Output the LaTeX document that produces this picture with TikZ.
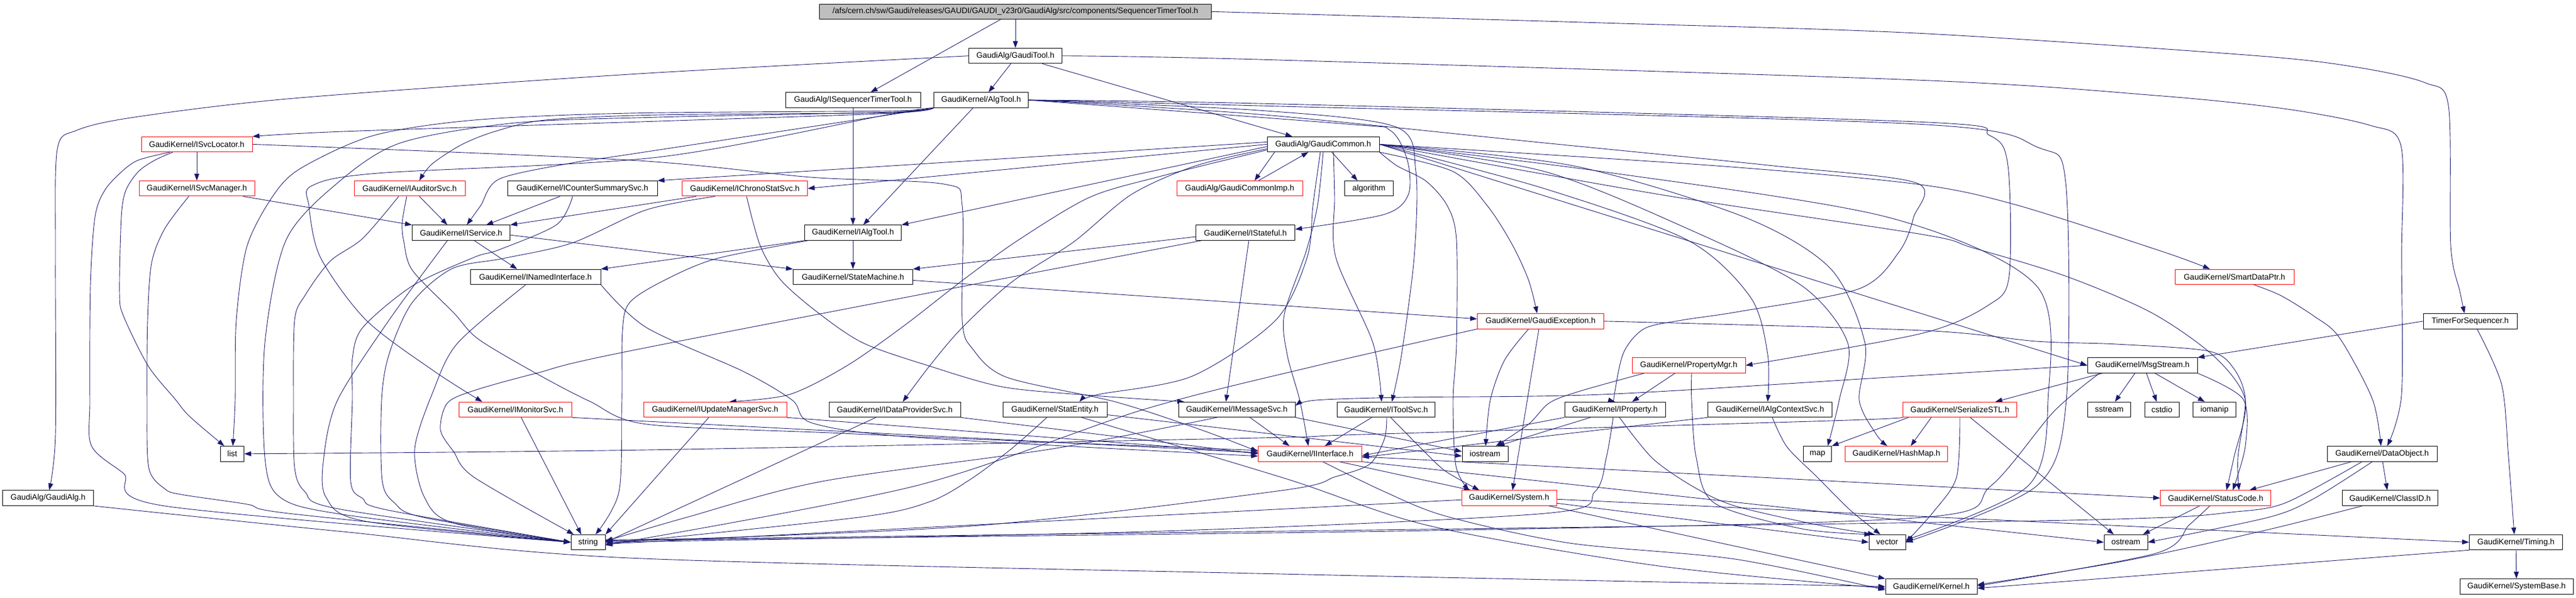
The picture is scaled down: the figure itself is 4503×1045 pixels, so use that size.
\documentclass[tikz,border=0pt]{standalone}
\usepackage{fontspec}
\setmainfont{Liberation Sans}
\usetikzlibrary{arrows.meta}
\pgfdeclarelayer{bg}
\pgfsetlayers{bg,main}
\definecolor{edgeblue}{HTML}{191970}
\definecolor{rootgray}{HTML}{BFBFBF}
\newcommand\conn[1]{\draw[e] plot[smooth,tension=0.5] coordinates {#1};}
\begin{document}
\begin{tikzpicture}[x=1pt,y=-1pt,
  box/.style={draw=black, fill=white, line width=1pt, inner sep=0pt, minimum height=26.5pt, font=\fontsize{14}{16}\selectfont},
  rbox/.style={box, draw=red},
  gbox/.style={box, fill=rootgray},
  w/.style={minimum width=#1pt},
  e/.style={draw=edgeblue, line width=0.9pt, -{Triangle[length=12pt,width=8.5pt]}},
]
\path[use as bounding box] (0,0) rectangle (4503,1045);
% row 0
\node[gbox,w=685] (root) at (1775,20.3) {/afs/cern.ch/sw/Gaudi/releases/GAUDI/GAUDI\_v23r0/GaudiAlg/src/components/SequencerTimerTool.h};
% row 1
\node[box,w=163] (gtool) at (1775,97.7) {GaudiAlg/GaudiTool.h};
% row 2
\node[box,w=236] (iseq) at (1491,175.0) {GaudiAlg/ISequencerTimerTool.h};
\node[box,w=165] (algtool) at (1715,175.0) {GaudiKernel/AlgTool.h};
% row 3
\node[rbox,w=194] (isvcloc) at (344,252.4) {GaudiKernel/ISvcLocator.h};
\node[box,w=196] (gcommon) at (2313,252.4) {GaudiAlg/GaudiCommon.h};
% row 4
\node[rbox,w=202] (isvcmgr) at (344,329.7) {GaudiKernel/ISvcManager.h};
\node[rbox,w=194] (iaud) at (716,329.7) {GaudiKernel/IAuditorSvc.h};
\node[box,w=262] (icounter) at (1018,329.7) {GaudiKernel/ICounterSummarySvc.h};
\node[rbox,w=219] (ichrono) at (1302,329.7) {GaudiKernel/IChronoStatSvc.h};
\node[rbox,w=220] (gcimp) at (2167,329.7) {GaudiAlg/GaudiCommonImp.h};
\node[box,w=85] (algo) at (2393,329.7) {algorithm};
% row 5
\node[box,w=171] (iservice) at (806,407.1) {GaudiKernel/IService.h};
\node[box,w=169] (ialgtool) at (1491,407.1) {GaudiKernel/IAlgTool.h};
\node[box,w=173] (istateful) at (2177,407.1) {GaudiKernel/IStateful.h};
% row 6
\node[box,w=228] (inamed) at (936,484.4) {GaudiKernel/INamedInterface.h};
\node[box,w=209] (statem) at (1491,484.4) {GaudiKernel/StateMachine.h};
\node[rbox,w=208] (sdp) at (3906,484.4) {GaudiKernel/SmartDataPtr.h};
% row 7
\node[rbox,w=221] (gexc) at (2693,561.8) {GaudiKernel/GaudiException.h};
\node[box,w=164] (tfs) at (4318,561.8) {TimerForSequencer.h};
% row 8
\node[rbox,w=198] (propmgr) at (2952,639.1) {GaudiKernel/PropertyMgr.h};
\node[box,w=192] (msgs) at (3745,639.1) {GaudiKernel/MsgStream.h};
% row 9
\node[rbox,w=197] (imon) at (901,716.5) {GaudiKernel/IMonitorSvc.h};
\node[rbox,w=250] (iupd) at (1250,716.5) {GaudiKernel/IUpdateManagerSvc.h};
\node[box,w=230] (idata) at (1564,716.5) {GaudiKernel/IDataProviderSvc.h};
\node[box,w=182] (statent) at (1844,716.5) {GaudiKernel/StatEntity.h};
\node[box,w=204] (imsg) at (2162,716.5) {GaudiKernel/IMessageSvc.h};
\node[box,w=171] (itool) at (2423,716.5) {GaudiKernel/IToolSvc.h};
\node[box,w=176] (iprop) at (2823,716.5) {GaudiKernel/IProperty.h};
\node[box,w=217] (ialgctx) at (3094,716.5) {GaudiKernel/IAlgContextSvc.h};
\node[rbox,w=199] (serstl) at (3426,716.5) {GaudiKernel/SerializeSTL.h};
\node[box,w=75] (sstr) at (3687,716.5) {sstream};
\node[box,w=60] (cstd) at (3779,716.5) {cstdio};
\node[box,w=75] (ioman) at (3871,716.5) {iomanip};
% row 10
\node[box,w=41] (list) at (406,793.8) {list};
\node[rbox,w=181] (iintf) at (2290,793.8) {GaudiKernel/IInterface.h};
\node[box,w=80] (iostr) at (2596,793.8) {iostream};
\node[box,w=49] (map) at (3177,793.8) {map};
\node[rbox,w=179] (hashmap) at (3315,793.8) {GaudiKernel/HashMap.h};
\node[box,w=192] (dobj) at (4164,793.8) {GaudiKernel/DataObject.h};
% row 11
\node[box,w=159] (galg) at (84,871.2) {GaudiAlg/GaudiAlg.h};
\node[rbox,w=166] (system) at (2638,871.2) {GaudiKernel/System.h};
\node[rbox,w=193] (stcode) at (3873,871.2) {GaudiKernel/StatusCode.h};
\node[box,w=167] (classid) at (4178,871.2) {GaudiKernel/ClassID.h};
% row 12
\node[box,w=60] (string) at (1028,948.5) {string};
\node[box,w=64] (vector) at (3299,948.5) {vector};
\node[box,w=76] (ostr) at (3716,948.5) {ostream};
\node[box,w=163] (timing) at (4398,948.5) {GaudiKernel/Timing.h};
% row 13
\node[box,w=160] (kernel) at (3376,1025.9) {GaudiKernel/Kernel.h};
\node[box,w=198] (sysbase) at (4399,1025.9) {GaudiKernel/SystemBase.h};

\begin{pgfonlayer}{bg}
% ---- root
\draw[e] (root) -- (gtool);
\draw[e] ([xshift=-26pt]root.south) -- ([xshift=31pt]iseq.north);
\conn{(root.east) (2800,40) (3350,58) (3938,97) (4122,118) (4240,145) (4280,185) (4284,430) (4300,510) ([xshift=-10pt]tfs.north)}
% ---- GaudiTool
\conn{(gtool.west) (1100,130) (513,172) (235,205) (134,228) (100,262) (97,450) (97,760) ([xshift=2pt]galg.north)}
\draw[e] ([xshift=-8pt]gtool.south) -- ([xshift=13pt]algtool.north);
\draw[e] ([xshift=47pt]gtool.south) -- ([xshift=-54pt]gcommon.north);
\conn{(gtool.east) (2200,104) (3350,140) (3768,167) (3992,190) (4142,219) (4197,255) (4198,450) (4198,690) ([xshift=9pt]dobj.north)}
% ---- ISequencerTimerTool
\draw[e] (iseq) -- (ialgtool);
% ---- AlgTool
\draw[e] ([xshift=-14pt]algtool.south) -- ([xshift=18pt]ialgtool.north);
\conn{(algtool.south west) (1560,200) (1100,270) (1000,285) (873,313) (840,360) ([xshift=10pt]iservice.north)}
\conn{(algtool.south west) (1560,198) (1150,212) (600,230) (isvcloc.north east)}
\conn{(algtool.south west) (1560,197) (1150,201) (953,210) (865,230) (807,253) (755,287) ([xshift=17pt]iaud.north)}
\conn{(algtool.south west) (1560,199) (1150,275) (660,303) (545,325) (540,360) (560,450) (640,560) (760,650) ([xshift=-58pt]imon.north)}
\conn{(algtool.south west) (1560,196) (1150,205) (900,215) (700,250) (590,320) (500,420) (463,600) (463,800) (490,870) (600,900) (string.west)}
\conn{(algtool.south west) (1560,194) (1100,198) (829,210) (653,237) (528,293) (479,340) (432,430) (413,560) (411,700) ([xshift=1pt]list.north)}
\conn{(algtool.east) (2200,200) (2700,250) (3100,290) (3350,320) (3345,380) (3320,440) (3250,505) (3040,545) (2940,560) (2874,575) (2838,617) (2822,690) (iprop.north)}
\conn{(algtool.east) (2200,181) (3350,213) (3478,237) (3510,290) (3512,483) (3477,533) (3360,583) (propmgr.east)}
\conn{(algtool.east) (2200,185) (3350,217) (3563,258) (3611,320) (3612,700) (3560,850) (vector.east)}
\conn{(algtool.east) (2354,217) (2430,228) (2460,280) (2462,340) (2420,375) ([yshift=6pt]istateful.east)}
\conn{(algtool.east) (2200,193) (2440,222) (2475,300) (2472,450) (2450,620) ([xshift=10pt]itool.north)}
% ---- IAlgTool
\draw[e] (ialgtool.south west) -- (inamed.north east);
\draw[e] (ialgtool) -- (statem);
\conn{([xshift=6pt]ialgtool.south west) (1250,453) (1156,493) (1100,530) (1088,580) (1087,700) (1082,860) ([xshift=13pt]string.north)}
% ---- IService
\draw[e] ([xshift=23pt]iservice.south) -- ([xshift=-32pt]inamed.north);
\draw[e] ([yshift=-4pt]iservice.east) -- (statem.north west);
\conn{([xshift=-24pt]iservice.south) (680,560) (590,700) (566,800) (570,870) (640,912) (string.west)}
% ---- INamedInterface
\conn{(inamed.south east) (1130,573) (1300,650) (1385,700) (1420,740) (1600,765) ([yshift=-4pt]iintf.west)}
\conn{([xshift=-17pt]inamed.south) (800,600) (757,685) (725,785) (742,870) (793,915) (string.west)}
% ---- StateMachine
\draw[e] ([yshift=-6pt]statem.east) -- ([yshift=4pt]gexc.west);
% ---- IStateful
\draw[e] ([yshift=-7pt]istateful.west) -- (statem.north east);
\conn{([xshift=10pt]istateful.south west) (1120,610) (937,653) (829,683) (782,705) (770,752) (793,790) (829,835) ([xshift=-25pt]string.north)}
\draw[e] ([xshift=6pt]istateful.south) -- ([xshift=-19pt]imsg.north);
% ---- ISvcLocator
\draw[e] (isvcloc) -- (isvcmgr);
\conn{(isvcloc.east) (1100,280) (1417,310) (1650,322) (1682,360) (1682,560) (1700,610) (1760,660) (1950,703) (2100,752) ([yshift=4pt]iintf.west)}
\conn{([xshift=-42pt]isvcloc.south) (271,280) (242,300) (220,333) (212,380) (209,513) (216,553) (259,640) (306,698) (331,728) ([xshift=-14pt]list.north)}
\conn{([xshift=-47pt]isvcloc.south) (242,280) (213,300) (183,333) (166,380) (158,500) (157,700) (160,780) (216,828) (288,885) (string.west)}
% ---- ISvcManager
\draw[e] ([xshift=81pt]isvcmgr.south) -- (iservice.north west);
\conn{([xshift=-14pt]isvcmgr.south) (288,400) (265,460) (258,560) (257,700) (260,818) (288,855) (317,865) (432,882) (504,898) (string.west)}
% ---- IAuditorSvc
\draw[e] ([xshift=17pt]iaud.south) -- ([xshift=-24pt]iservice.north);
\conn{([xshift=-19pt]iaud.south) (634,417) (577,457) (533,517) (515,560) (513,700) (515,818) (533,860) (591,890) (string.west)}
\conn{([xshift=-5pt]iaud.south) (703,390) (706,423) (721,473) (793,547) (836,593) (937,653) (1031,702) (1130,742) (1450,757) (1700,768) ([yshift=6pt]iintf.west)}
% ---- ICounterSummarySvc
\draw[e] ([xshift=-39pt]icounter.south) -- ([xshift=44pt]iservice.north);
\conn{([xshift=-17pt]icounter.south) (973,393) (872,437) (829,450) (721,500) (634,573) (616,627) (616,698) (613,842) (634,872) (677,892) (string.west)}
% ---- IChronoStatSvc
\draw[e] ([xshift=-85pt]ichrono.south) -- (iservice.north east);
\conn{([xshift=-52pt]ichrono.south) (1130,367) (1000,425) (880,452) (790,470) (720,530) (680,620) (667,700) (668,840) (690,880) (740,905) (string.west)}
\conn{([xshift=3pt]ichrono.south) (1329,430) (1365,490) (1430,547) (1509,600) (1624,640) (1754,677) (1913,692) ([xshift=-92pt]imsg.north)}
% ---- GaudiCommon
\draw[e] ([yshift=-4pt]gcommon.west) -- (ialgtool.north east);
\draw[e] ([yshift=4pt]gcommon.west) -- (icounter.north east);
\draw[e] (gcommon.west) -- (ichrono.east);
\draw[e] ([xshift=-85pt]gcommon.south) -- ([xshift=26pt]gcimp.north);
\draw[e] ([xshift=33pt]gcimp.north) -- ([xshift=-26pt]gcommon.south);
\draw[e] ([xshift=15pt]gcommon.south) -- ([xshift=-20pt]algo.north);
\conn{(gcommon.south east) (2540,300) (2600,360) (2643,427) (2672,490) ([xshift=-6pt]gexc.north)}
\conn{(gcommon.south) (2303,360) (2283,440) (2245,550) (2250,620) (2272,700) ([xshift=-3pt]iintf.north)}
\conn{([xshift=-5pt]gcommon.south) (2295,360) (2285,450) (2230,560) (2084,658) (1920,690) ([xshift=43pt]statent.north)}
\conn{([xshift=18pt]gcommon.south) (2333,345) (2335,450) (2400,600) ([xshift=-8pt]itool.north)}
\conn{(gcommon.south east) (2442,290) (2493,317) (2530,360) (2546,420) (2546,600) (2540,700) (2545,815) ([xshift=-70pt]system.north)}
\conn{(gcommon.east) (2700,330) (2950,420) (3060,520) (3090,620) ([xshift=-4pt]ialgctx.north)}
\conn{([yshift=-8pt]gcommon.west) (2090,290) (1978,340) (1877,423) (1769,493) (1682,573) (1625,640) ([xshift=14pt]idata.north)}
\conn{([yshift=-10pt]gcommon.west) (2030,308) (1905,345) (1780,420) (1683,490) (1580,570) (1480,640) (1380,690) ([xshift=25pt]iupd.north)}
\draw[e] (gcommon.east) -- (msgs.west);
\conn{(gcommon.east) (3000,290) (3350,322) (3523,358) (3780,440) ([xshift=-43pt]sdp.north)}
\conn{(gcommon.east) (2900,340) (3360,410) (3447,433) (3611,483) (3761,547) (3870,623) (3925,700) (3905,800) ([xshift=19pt]stcode.north)}
\conn{(gcommon.east) (2800,300) (3300,380) (3560,500) (3580,700) (3545,850) ([yshift=4pt]vector.east)}
\conn{(gcommon.east) (2700,300) (2950,400) (3150,500) (3230,600) (3215,700) ([xshift=18pt]map.north)}
\conn{(gcommon.east) (2750,290) (3050,380) (3200,470) (3260,600) (3250,700) (3280,760) ([xshift=-16pt]hashmap.north)}
% ---- row 9 services
\draw[e] (imon.south east) -- ([yshift=2pt]iintf.west);
\draw[e] ([xshift=10pt]imon.south) -- ([xshift=-12pt]string.north);
\draw[e] (iupd.south east) -- ([yshift=1pt]iintf.west);
\draw[e] ([xshift=-11pt]iupd.south) -- (string.north east);
\draw[e] (idata.south east) -- (iintf.west);
\draw[e] ([xshift=-33pt]idata.south) -- (string.east);
\conn{([xshift=-14pt]statent.south) (1768,785) (1697,838) (1624,878) (1500,905) ([yshift=-3pt]string.east)}
\draw[e] ([yshift=-9pt]statent.east) -- ([yshift=-4pt]iostr.west);
\conn{([xshift=47pt]statent.south) (2250,838) (2500,920) (2900,990) ([yshift=-3pt]kernel.west)}
\draw[e] ([xshift=23pt]imsg.south) -- ([xshift=-36pt]iintf.north);
\conn{([xshift=-35pt]imsg.south) (1840,785) (1437,842) (1200,905) ([yshift=2pt]string.east)}
\draw[e] (imsg.south east) -- ([yshift=4pt]iostr.west);
\draw[e] ([xshift=-25pt]itool.south) -- ([xshift=26pt]iintf.north);
\conn{([xshift=1pt]itool.south) (2420,768) (2394,812) (2334,834) (2240,858) (1700,920) ([yshift=1pt]string.east)}
\conn{([xshift=8pt]itool.south) (2492,792) (2528,825) ([xshift=-52pt]system.north)}
\draw[e] (iprop.south west) -- ([yshift=-3pt]iintf.east);
\draw[e] ([xshift=-43pt]iprop.south) -- ([xshift=22pt]iostr.north);
\conn{([xshift=-3pt]iprop.south) (2808,800) (2788,860) (2701,898) (2000,930) (string.east)}
\conn{([xshift=8pt]iprop.south) (2889,802) (2961,852) (3033,885) (3177,918) ([xshift=-22pt]vector.north)}
\draw[e] (ialgctx.south west) -- ([yshift=-6pt]iintf.east);
\conn{([xshift=4pt]ialgctx.south) (3124,782) (3177,835) (3234,892) ([xshift=-12pt]vector.north)}
% ---- SerializeSTL
\conn{(serstl.south west) (3200,736) (2380,760) (2200,766) (1130,787) (list.east)}
\draw[e] ([xshift=-90pt]serstl.south) -- (map.north east);
\draw[e] ([xshift=-50pt]serstl.south) -- ([xshift=25pt]hashmap.north);
\conn{(serstl.south) (3420,835) (3380,895) (vector.east)}
\draw[e] ([xshift=18pt]serstl.south) -- ([xshift=-21pt]ostr.north);
% ---- MsgStream
\conn{(msgs.west) (3300,660) (2800,690) (2450,695) (2300,700) ([yshift=7pt]imsg.east)}
\draw[e] ([xshift=-70pt]msgs.south) -- ([xshift=62pt]serstl.north);
\draw[e] ([xshift=-13pt]msgs.south) -- ([xshift=10pt]sstr.north);
\draw[e] ([xshift=7pt]msgs.south) -- ([xshift=-9pt]cstd.north);
\draw[e] ([xshift=22pt]msgs.south) -- ([xshift=-17pt]ioman.north);
\conn{([xshift=-75pt]msgs.south) (3590,720) (3480,850) (3360,905) (2500,928) ([yshift=3pt]string.east)}
\conn{(msgs.south east) (3921,698) (3925,780) ([xshift=30pt]stcode.north)}
% ---- TimerForSequencer
\draw[e] (tfs.west) -- (msgs.north east);
\conn{([xshift=12pt]tfs.south) (4373,673) (4385,800) ([xshift=-3pt]timing.north)}
% ---- Timing
\draw[e] (timing) -- (sysbase);
\draw[e] (timing.south west) -- ([yshift=-3pt]kernel.east);
% ---- System
\draw[e] ([yshift=-2pt]system.east) -- (timing.west);
\draw[e] ([xshift=70pt]system.south) -- (kernel.north west);
\draw[e] ([yshift=-3pt]system.west) -- ([yshift=-3pt]string.east);
\draw[e] ([yshift=-9pt]system.east) -- (vector.west);
% ---- DataObject
\draw[e] ([xshift=-53pt]dobj.south) -- ([xshift=59pt]stcode.north);
\draw[e] ([xshift=1pt]dobj.south) -- ([xshift=-5pt]classid.north);
\conn{([xshift=-17pt]dobj.south) (4045,872) (3965,905) (ostr.east)}
\conn{([xshift=-35pt]dobj.south) (3994,880) (3900,896) (3761,906) (3300,915) ([yshift=4pt]string.east)}
% ---- ClassID / StatusCode
\conn{([xshift=-49pt]classid.south) (3958,928) (3710,982) ([yshift=3pt]kernel.east)}
\draw[e] ([xshift=-28pt]stcode.south) -- ([xshift=30pt]ostr.north);
\conn{([xshift=-10pt]stcode.south) (3827,918) (3768,968) ([yshift=1pt]kernel.east)}
% ---- GaudiException
\conn{(gexc.south west) (2300,640) (2000,716) (1600,850) ([yshift=-5pt]string.east)}
\draw[e] ([xshift=-3pt]gexc.south) -- ([xshift=6pt]system.north);
\conn{([xshift=-21pt]gexc.south) (2630,630) (2605,700) ([xshift=1pt]iostr.north)}
\conn{(gexc.east) (3360,578) (3560,597) (3700,602) (3860,614) (3905,645) (3925,700) (3912,800) ([xshift=41pt]stcode.north)}
% ---- PropertyMgr
\draw[e] ([xshift=-24pt]propmgr.south) -- ([xshift=30pt]iprop.north);
\conn{([xshift=5pt]propmgr.south) (2957,700) (2965,800) (2997,880) (3150,925) ([xshift=-28pt]vector.north)}
\conn{([xshift=-78pt]propmgr.south) (2759,685) (2708,705) (2672,742) ([xshift=19pt]iostr.north)}
% ---- IInterface
\conn{([xshift=22pt]iintf.south) (2420,860) (2528,903) (2744,950) (3033,978) ([yshift=-6pt]kernel.west)}
\draw[e] ([xshift=51pt]iintf.south) -- ([xshift=-67pt]system.north);
\draw[e] ([yshift=-5pt]iintf.east) -- (stcode.west);
\draw[e] (iintf.south east) -- (ostr.west);
% ---- GaudiAlg
\conn{(galg.south east) (600,930) (1100,976) (2240,1004) (kernel.west)}
% ---- SmartDataPtr
\conn{([xshift=34pt]sdp.south) (3987,517) (4045,553) (4089,590) (4147,698) ([xshift=-2pt]dobj.north)}
\end{pgfonlayer}
\end{tikzpicture}
\end{document}
